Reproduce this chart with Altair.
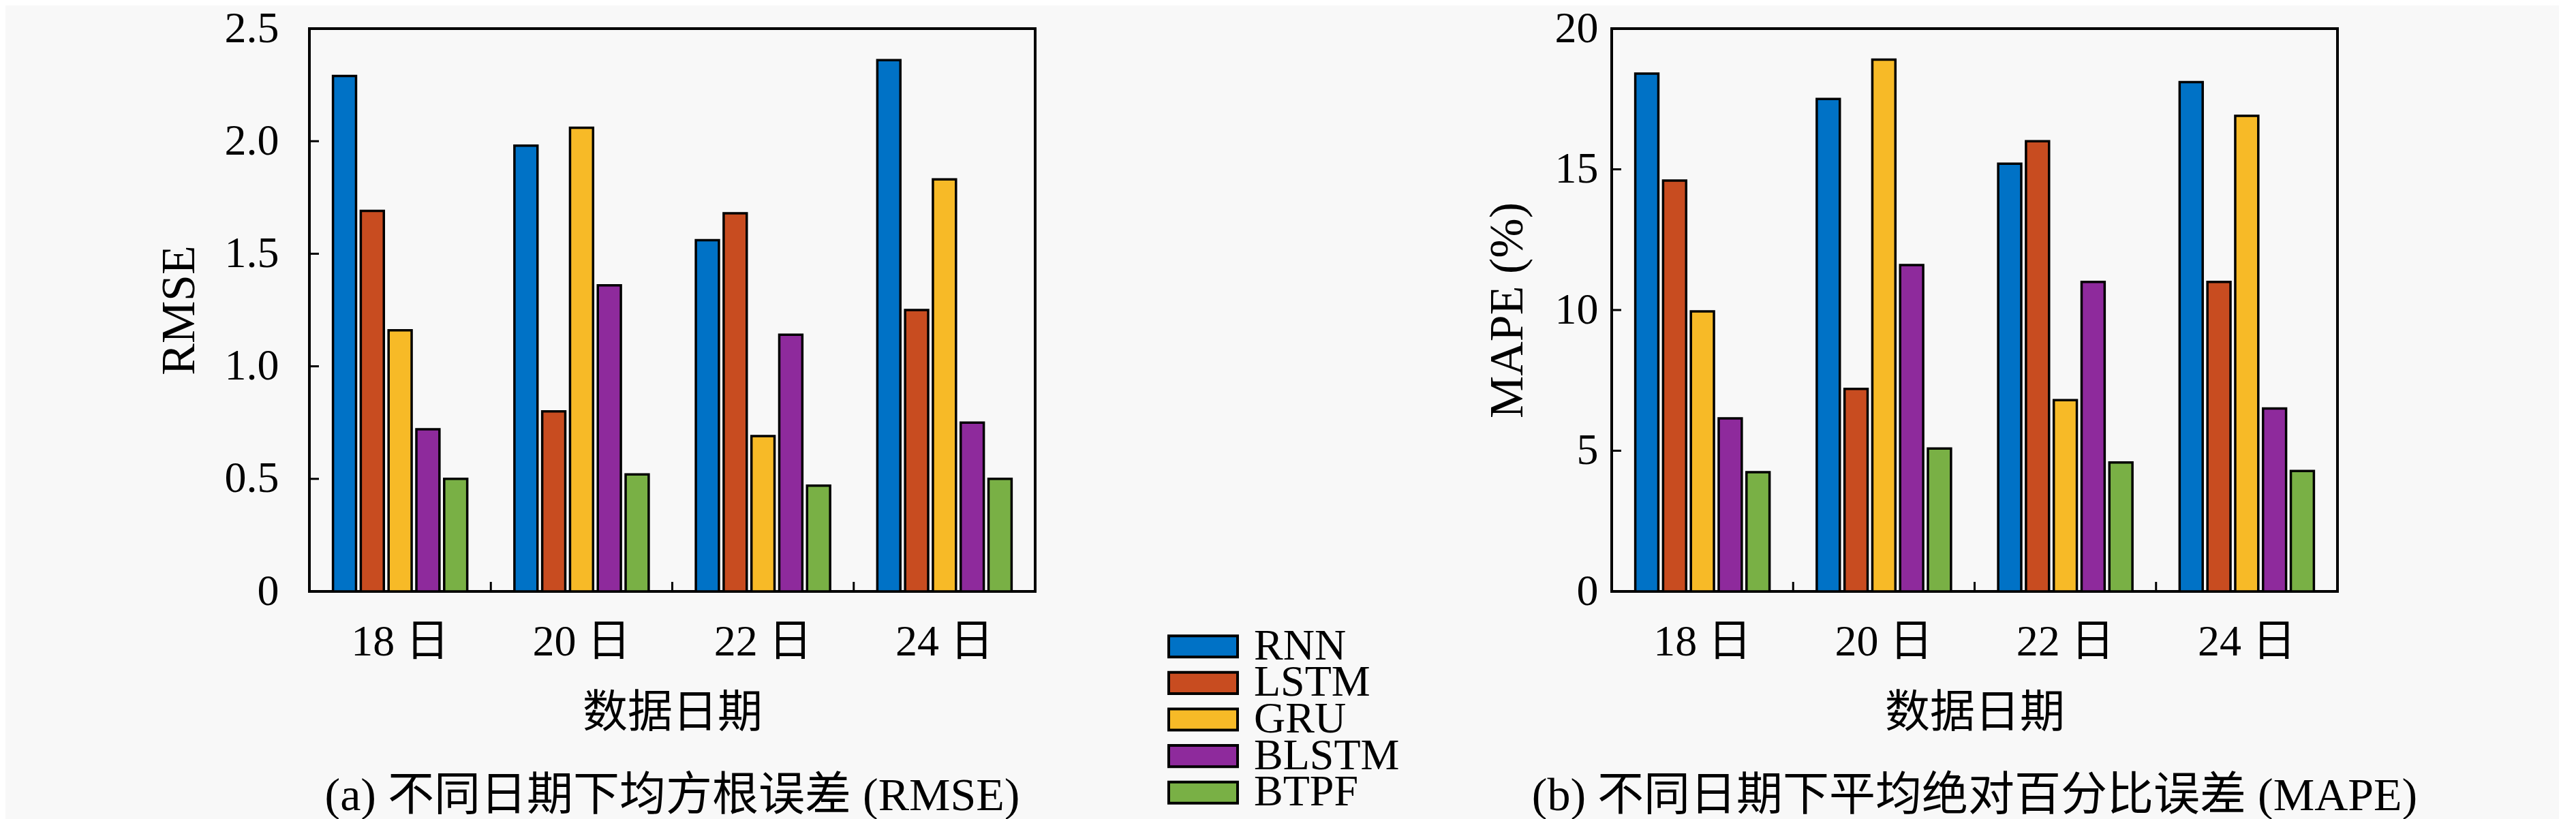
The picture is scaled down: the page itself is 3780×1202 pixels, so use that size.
import altair as alt
import pandas as pd

# ---- data ----
dates = ["18 日", "20 日", "22 日", "24 日"]
models = ["RNN", "LSTM", "GRU", "BLSTM", "BTPF"]
colors = ["#0072C6", "#C84C20", "#F7BA27", "#8E2A9C", "#79B045"]

rmse_rnn = [2.29, 1.98, 1.56, 2.36]
rmse_lstm = [1.69, 0.80, 1.68, 1.25]
rmse_gru = [1.16, 2.06, 0.69, 1.83]
rmse_blstm = [0.72, 1.36, 1.14, 0.75]
rmse_btpf = [0.50, 0.52, 0.47, 0.50]

mape_rnn = [18.4, 17.5, 15.2, 18.1]
mape_lstm = [14.6, 7.2, 16.0, 11.0]
mape_gru = [9.95, 18.9, 6.8, 16.9]
mape_blstm = [6.15, 11.6, 11.0, 6.5]
mape_btpf = [4.24, 5.08, 4.58, 4.28]

rmse_ticks = [0, 0.5, 1.0, 1.5, 2.0, 2.5]
mape_ticks = [0, 5, 10, 15, 20]
band_bounds = [1, 2, 3]

FONT = "Liberation Serif, Noto Sans CJK SC"
PW, PH = 1065, 826


def make_df(series):
    rows = []
    for m, vals in zip(models, series):
        for d, v in zip(dates, vals):
            rows.append({"date": d, "model": m, "value": v})
    return pd.DataFrame(rows)


df_rmse = make_df([rmse_rnn, rmse_lstm, rmse_gru, rmse_blstm, rmse_btpf])
df_mape = make_df([mape_rnn, mape_lstm, mape_gru, mape_blstm, mape_btpf])


def panel(df, ticks, ymax, ytitle, caption, label_expr, lab_pad, title_pad):
    yaxis = alt.Axis(values=ticks, title=ytitle, grid=False, ticks=False, domain=False,
                     labelPadding=lab_pad, titlePadding=title_pad, labelExpr=label_expr,
                     labelFontSize=64, titleFontSize=70, titleFontWeight="normal",
                     labelColor="black", titleColor="black")
    bars = alt.Chart(df).mark_bar(stroke="black", strokeWidth=3.5).encode(
        x=alt.X("date:N", sort=dates,
                scale=alt.Scale(paddingInner=0.26, paddingOuter=0.13),
                axis=alt.Axis(title="数据日期", labelAngle=0, ticks=False, domain=False,
                              labelPadding=42, titlePadding=40, labelFontSize=64,
                              titleFontSize=66, titleFontWeight="normal",
                              labelColor="black", titleColor="black")),
        xOffset=alt.XOffset("model:N", sort=models, scale=alt.Scale(paddingInner=0.17)),
        y=alt.Y("value:Q", scale=alt.Scale(domain=[0, ymax], nice=False), axis=yaxis),
        color=alt.Color("model:N", sort=models,
                        scale=alt.Scale(domain=models, range=colors), legend=None),
    )
    yt = alt.Chart(pd.DataFrame({"value": ticks})).mark_rule(color="black", strokeWidth=3).encode(
        y=alt.Y("value:Q"),
        x=alt.value(0), x2=alt.value(14),
    )
    xt = alt.Chart(pd.DataFrame({"b": band_bounds})).mark_rule(color="black", strokeWidth=3).encode(
        x=alt.X("b:Q", scale=alt.Scale(domain=[0, 4]), axis=None),
        y=alt.value(PH), y2=alt.value(PH - 14),
    )
    return alt.layer(bars, yt, xt).resolve_scale(x="independent").properties(
        width=PW, height=PH,
        title=alt.TitleParams(caption, orient="bottom", fontSize=68, fontWeight="normal",
                              offset=56, anchor="middle", frame="group", color="black"),
    )


left = panel(df_rmse, rmse_ticks, 2.5, "RMSE", "(a) 不同日期下均方根误差 (RMSE)",
             "datum.value == 0 ? '0' : format(datum.value, '.1f')", 45, 30)
right = panel(df_mape, mape_ticks, 20, "MAPE (%)", "(b) 不同日期下平均绝对百分比误差 (MAPE)",
              "format(datum.value, 'd')", 20, 33)

leg_df = pd.DataFrame({"model": models})
leg_y = alt.Y("model:N", sort=models,
              scale=alt.Scale(domain=models, range=[880, 1148], paddingInner=0.42, paddingOuter=0.21),
              axis=None)
leg_rect = alt.Chart(leg_df).mark_rect(stroke="black", strokeWidth=4).encode(
    y=leg_y, x=alt.value(192), x2=alt.value(293),
    color=alt.Color("model:N", sort=models, scale=alt.Scale(domain=models, range=colors), legend=None),
)
leg_text = alt.Chart(leg_df).mark_text(align="left", baseline="middle", fontSize=64, color="black").encode(
    y=leg_y, x=alt.value(317), text="model:N",
)
legend = alt.layer(leg_rect, leg_text).properties(
    width=650, height=1150, view=alt.ViewBackground(stroke="transparent"))

chart = alt.hconcat(left, legend, right, spacing=0).properties(
    background="#f8f8f8",
    padding={"left": 218, "top": 0, "right": 205, "bottom": 0},
).configure(font=FONT).configure_view(stroke="black", strokeWidth=4)

chart.save("out.html", embed_options={"renderer": "svg", "actions": False})
